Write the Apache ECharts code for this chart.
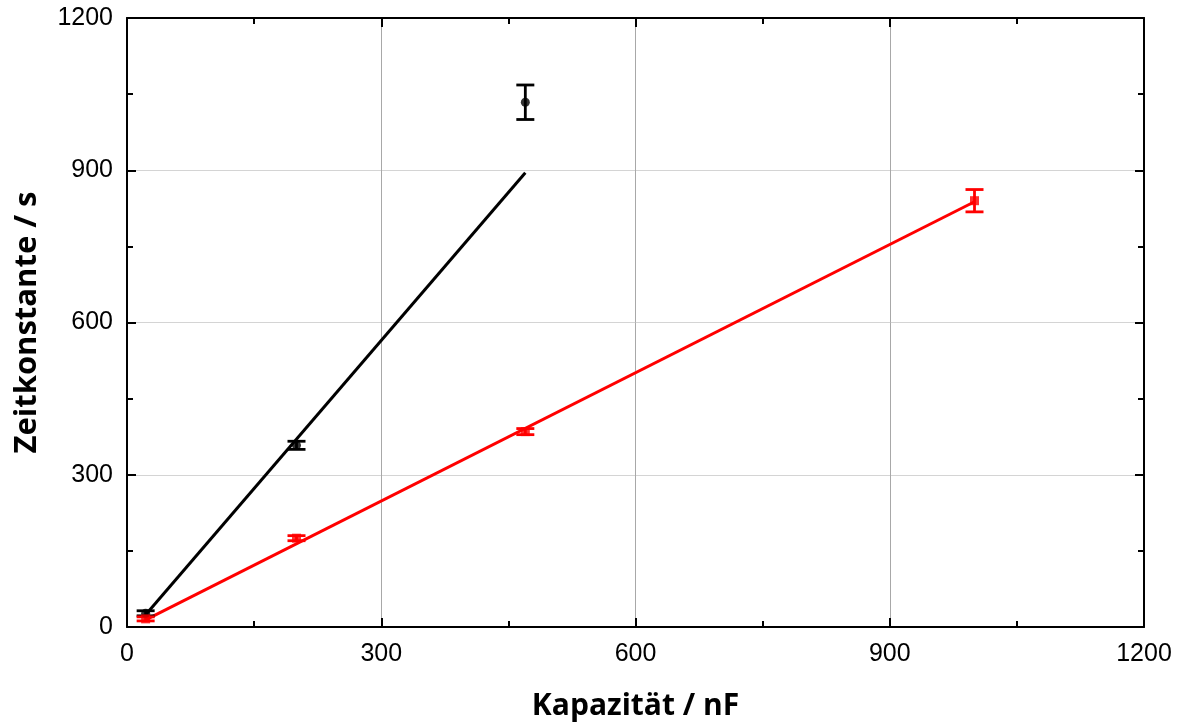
<!DOCTYPE html>
<html>
<head>
<meta charset="utf-8">
<script src="https://cdn.jsdelivr.net/npm/echarts@6/dist/echarts.min.js"></script>
<style>html,body{margin:0;padding:0;background:#fff}#c{width:1181px;height:724px}</style>
</head>
<body>
<div id="c"></div>
<script>
const capBlack = [22, 200, 470];
const tauBlack = [27, 358, 1034];
const errBlack = [5, 8, 34];
const capRed = [22, 200, 470, 1000];
const tauRed = [16, 175, 385, 840];
const errRed = [4, 5, 6, 22];
const fitBlackX = [22, 470];
const fitBlackY = [24, 895];
const fitRedX = [22, 1000];
const fitRedY = [14, 838];
const xTicks = [0, 300, 600, 900, 1200];
const yTicks = [0, 300, 600, 900, 1200];

const chart = echarts.init(document.getElementById('c'));

function errItems(xs, ys, es) { return xs.map((x, i) => [x, ys[i] - es[i], ys[i] + es[i]]); }
function errSeries(xs, ys, es, color) {
  return {
    type: 'custom', z: 5,
    data: errItems(xs, ys, es),
    renderItem: function (params, api) {
      const lo = api.coord([api.value(0), api.value(1)]);
      const hi = api.coord([api.value(0), api.value(2)]);
      const w = 9;
      const st = { stroke: color, lineWidth: 2.8 };
      return { type: 'group', children: [
        { type: 'line', shape: { x1: lo[0], y1: lo[1], x2: hi[0], y2: hi[1] }, style: st },
        { type: 'line', shape: { x1: lo[0] - w, y1: lo[1], x2: lo[0] + w, y2: lo[1] }, style: st },
        { type: 'line', shape: { x1: hi[0] - w, y1: hi[1], x2: hi[0] + w, y2: hi[1] }, style: st }
      ]};
    }
  };
}
function pairs(xs, ys) { return xs.map((x, i) => [x, ys[i]]); }

const axisCommon = {
  min: 0, max: 1200, interval: 300,
  axisLine: { show: true, onZero: false, lineStyle: { color: '#000', width: 2 } },
  axisTick: { show: true, inside: true, length: 9, lineStyle: { color: '#000', width: 2 } },
  minorTick: { show: true, splitNumber: 2, length: 6, lineStyle: { color: '#000', width: 2 } },
};
const labelStyle = { show: true, fontFamily: 'Liberation Sans', fontSize: 25, color: '#000',
  formatter: function (v) { return String(v); } };

chart.setOption({
  animation: false,
  grid: { left: 127, right: 37, top: 18, bottom: 97, outerBoundsMode: 'none', containLabel: false },
  xAxis: [
    Object.assign({}, axisCommon, {
      type: 'value', position: 'bottom',
      name: 'Kapazität / nF', nameLocation: 'middle', nameGap: 64,
      nameTextStyle: { fontFamily: 'Open Sans', fontWeight: 'bold', fontSize: 30, color: '#000' },
      axisLabel: Object.assign({}, labelStyle, { margin: 15, customValues: xTicks }),
      splitLine: { show: true, lineStyle: { color: '#a8a8a8', width: 1 } }
    }),
    Object.assign({}, axisCommon, {
      type: 'value', position: 'top', axisLabel: { show: false }, splitLine: { show: false }
    })
  ],
  yAxis: [
    Object.assign({}, axisCommon, {
      type: 'value', position: 'left',
      name: 'Zeitkonstante / s', nameLocation: 'middle', nameGap: 84,
      nameTextStyle: { fontFamily: 'Open Sans', fontWeight: 'bold', fontSize: 31, color: '#000' },
      axisLabel: Object.assign({}, labelStyle, { margin: 14, customValues: yTicks }),
      splitLine: { show: true, lineStyle: { color: '#d4d4d4', width: 1 } }
    }),
    Object.assign({}, axisCommon, {
      type: 'value', position: 'right', axisLabel: { show: false }, splitLine: { show: false }
    })
  ],
  series: [
    { type: 'line', data: pairs(fitBlackX, fitBlackY), symbol: 'none', lineStyle: { color: '#000', width: 3 }, z: 3 },
    { type: 'line', data: pairs(fitRedX, fitRedY), symbol: 'none', lineStyle: { color: '#ff0000', width: 3 }, z: 3 },
    errSeries(capBlack, tauBlack, errBlack, '#000'),
    errSeries(capRed, tauRed, errRed, '#ff0000'),
    { type: 'scatter', data: pairs(capBlack, tauBlack), symbol: 'circle', symbolSize: 9, itemStyle: { color: '#000' }, z: 6 },
    { type: 'scatter', data: pairs(capRed, tauRed), symbol: 'rect', symbolSize: 9, itemStyle: { color: '#ff0000' }, z: 6 }
  ]
});
</script>
</body>
</html>
